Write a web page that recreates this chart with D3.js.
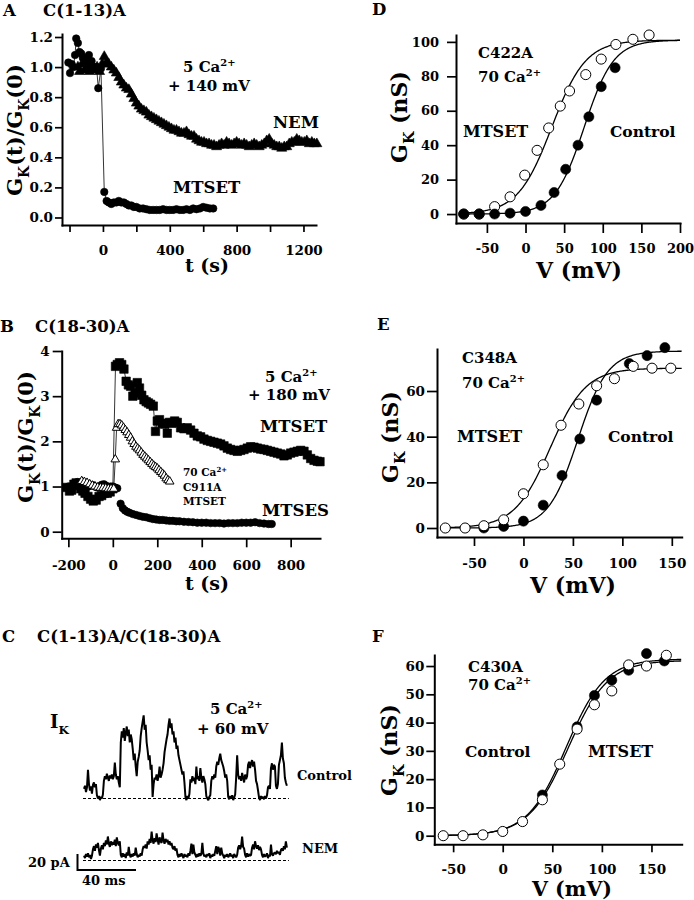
<!DOCTYPE html>
<html lang='en'>
<head>
<meta charset='UTF-8'>
<script src='https://d3js.org/d3.v7.min.js'></script>
<title>GK after cysteine modification</title>
<style>
  body { margin: 0; background: #fff; }
  svg { display: block; background: #fff; }
  text { font-family: 'DejaVu Serif', serif; font-weight: bold; fill: #000; }
</style>
</head>
<body>
<svg id='fig' width='694' height='900'></svg>
<script>
// ---- A : C(1-13)A, GK(t)/GK(0) vs time ----
const aMtsetT = [-207,-197,-187,-177,-167,-160,-150,-140,-130,-120,-107,-95,-84,-68,-55,-38,-28,-12,8,22,35,50,65,80,95,110,125,140,155,170,185,200,220,240,260,280,300,320,340,360,380,400,420,440,460,480,500,520,540,560,580,600,620,640,660]
const aMtsetG = [1.03,0.96,1.02,1.0,1.08,1.19,1.16,1.1,1.09,1.06,1.06,1.03,1.08,1.04,1.0,1.0,0.86,0.99,0.17,0.11,0.1,0.09,0.1,0.1,0.11,0.1,0.1,0.09,0.08,0.08,0.07,0.07,0.06,0.06,0.055,0.05,0.05,0.05,0.05,0.055,0.05,0.05,0.05,0.055,0.05,0.05,0.055,0.05,0.06,0.055,0.06,0.07,0.065,0.06,0.06]
const aNemT = [-150,-140,-125,-110,-95,-80,-65,-50,-35,-20,-5,8,20,35,50,65,80,95,110,125,140,155,170,185,200,215,230,245,260,275,290,305,320,335,350,365,380,395,410,425,440,455,470,485,500,515,530,545,560,575,590,605,620,635,650,665,680,695,710,725,740,755,770,785,800,815,830,845,860,875,890,905,920,935,950,965,980,995,1010,1025,1040,1055,1070,1085,1100,1115,1130,1145,1160,1175,1190,1205,1220,1235,1250,1265,1280]
const aNemG = [1.0,0.97,1.02,0.98,1.0,0.97,1.01,0.98,1.0,0.97,1.02,1.07,1.03,1.02,1.0,0.98,0.96,0.93,0.9,0.88,0.86,0.85,0.82,0.79,0.76,0.74,0.72,0.71,0.7,0.68,0.67,0.66,0.65,0.64,0.63,0.62,0.61,0.6,0.59,0.58,0.58,0.57,0.56,0.56,0.57,0.55,0.54,0.54,0.52,0.51,0.5,0.5,0.49,0.49,0.48,0.48,0.47,0.48,0.49,0.48,0.5,0.49,0.48,0.49,0.5,0.49,0.48,0.49,0.48,0.47,0.48,0.49,0.48,0.47,0.48,0.49,0.51,0.52,0.49,0.48,0.47,0.47,0.46,0.47,0.47,0.49,0.5,0.5,0.52,0.51,0.5,0.5,0.51,0.49,0.5,0.49,0.49]
const aXTicks = [-200,0,200,400,600,800,1000,1200]
const aYTicks = [0,0.2,0.4,0.6,0.8,1.0,1.2]

// ---- B : C(18-30)A ----
const bMtsetT = [-205,-195,-185,-175,-165,-155,-145,-135,-125,-112,-100,-88,-75,-62,-50,-38,-25,-12,0,12,20,30,40,50,60,70,80,90,100,110,120,130,140,150,160,170,182,192,200,210,222,233,245,255,265,278,290,305,320,335,350,365,380,395,410,425,440,455,470,485,500,515,530,545,560,575,590,605,620,635,650,665,680,695,710,725,740,755,770,785,800,815,830,845,860,875,890,905,920,932]
const bMtsetG = [0.98,0.9,0.92,1.05,1.08,1.02,0.95,0.9,0.85,0.78,0.72,0.68,0.7,0.78,0.8,0.85,0.85,0.88,0.95,3.66,3.7,3.74,3.7,3.6,3.33,3.25,3.22,3.0,3.07,3.3,3.18,3.02,2.92,2.88,2.85,2.82,2.78,2.22,2.45,2.48,2.4,2.38,2.18,2.42,2.4,2.45,2.42,2.3,2.28,2.3,2.25,2.18,2.12,2.1,2.05,2.02,2.0,1.98,1.96,1.94,1.9,1.85,1.82,1.8,1.78,1.8,1.82,1.85,1.88,1.87,1.85,1.83,1.82,1.8,1.78,1.76,1.74,1.72,1.68,1.7,1.74,1.76,1.78,1.8,1.78,1.7,1.62,1.58,1.56,1.55]
const bMtsesT = [-200,-190,-180,-170,-160,-150,-140,-130,-120,-110,-100,-90,-80,-70,-60,-50,-40,-30,-20,-10,0,10,20,35,45,55,65,75,90,105,120,135,150,165,180,195,210,225,240,255,270,285,300,320,340,360,380,400,420,440,460,480,500,520,540,560,580,600,620,640,660,680,700,715]
const bMtsesG = [1.0,0.98,1.03,1.05,1.1,1.08,1.05,1.02,1.0,1.0,1.02,1.03,1.0,0.98,1.0,1.04,1.05,1.02,0.98,1.0,1.0,0.98,0.96,0.62,0.52,0.47,0.44,0.42,0.39,0.37,0.35,0.33,0.32,0.3,0.28,0.27,0.26,0.26,0.25,0.24,0.24,0.23,0.23,0.22,0.215,0.21,0.2,0.2,0.2,0.19,0.19,0.19,0.18,0.19,0.19,0.19,0.2,0.2,0.2,0.21,0.19,0.18,0.17,0.17]
const bC911T = [-140,-128,-116,-104,-92,-80,-68,-56,-44,-32,-20,-8,4,11,17,24,32,40,48,56,64,72,80,88,96,104,112,120,128,136,144,152,160,168,176,184,192,200,208,216,224,232,240,248,256]
const bC911G = [1.12,1.1,1.08,1.05,1.02,1.0,0.98,0.97,0.97,0.96,0.95,0.95,0.95,1.6,2.3,2.38,2.38,2.35,2.3,2.25,2.2,2.14,2.08,2.0,1.94,1.88,1.84,1.8,1.75,1.7,1.66,1.62,1.58,1.54,1.5,1.46,1.43,1.4,1.36,1.32,1.28,1.24,1.18,1.14,1.11]
const bXTicks = [-200,0,200,400,600,800]
const bYTicks = [0,1,2,3,4]

// ---- C : single channel records, pA, one sample every cDt ms ----
const cDt = 0.68
const cControl = [12,16,8,14,36,18,10,15,6,17,20,14,18, 4,0,3,-2,2,0,5, 22,28,24,31,26,22,29,25,30,24,28,45,30,24,28,20,14, 70,84,76,88,72,82,90,78,86,70,80,74,62, 48,56,40,28,46,52,60, 78,88,96,104,86,92,70, 60,48,54,36,42,2,18,26, 24,30,22,28,40,26,30,36, 44,58,66,74,80,92,100, 88,94,80,84,70,76,62,66,54,48, 42,36,30,34,20,2, -2,3,0,6, 24,20,28,22,26,18,40,24,28,22,38,26,20,28,24,18, 3,0,-2,2,4, 22,28,24,30,26, 40,46,42,50,56,48,44,40,34, 26,30,22, 2,-1,3,0,4,-2,1,5, 26,54,30,24,28,22,32,26,20,30,24,28, 42,46,38,44,48,40,46,36, 22,18,10, 1,-2,3,0,2,-1,3,0,4, 14,16,12, 38,44,36,42,40, 16,12,18, 42,48,54,70,50,44, 26,20,16]
const cNem = [6,3,8,5,9,4,7,2,6, 14,18,12,20,16,22,13,6,15,19,14, 22,18,25,20,30,21,17,24,19,23,20,26,18,29,22,19,24, 7,4,9,5,8,3,10,6,17,7,4,8,5,9,6,16,8,4,7,5,9,6, 14,18,16,20,15, 24,20,27,22,36,25,21,28,23,34,26,20,29,24,22,35,25,21,27,23,26,20,24,19,22, 16,14,18,12,15, 7,4,8,5,9,6,3,8,5,7,4,9,6, 12,21,8,20,10, 7,4,8,5,9,6,8,22,9,5,7,4,8,6,9,3,7,5,8,6, 12,18,8,17,14,6,16,9, 6,3,7,5,8,4,6,9,5,7,3,8,6,4,7, 16,19,14,18,30,17,15, 7,4,9,5,8,6,7, 16,20,14,24,18,15,19,13,17,14, 7,4,8,5,6,9,3,7,5,20,8,6,9, 10,8,12,9,11,7,13, 15,12,18,14,24,16]
const cScaleBar = [20, 40] // pA, ms

// ---- D, E, F : GK-V, points and Boltzmann fits [Gmax, Vhalf, slope] ----
const dCtlV = [-80,-60,-40,-20,0,20,37,52,68,82,98,116]
const dCtlG = [0,0,0,0.5,1.5,5,12.5,26,40,56.5,74,85]
const dMtsV = [-80,-60,-40,-20,-1,15,30,45,57,78,98,117,139,160]
const dMtsG = [0,0,4.3,10,22.6,37,50,62.7,71.5,81,90,98.5,101.5,104]
const dCtlFit = [101,76,19], dMtsFit = [101,34,22]

const eCtlV = [-40,-20,0,20,39,57,74,107,125,143]
const eCtlG = [0,0.7,3,10,23,39,56,72,75.5,79]
const eMtsV = [-79,-59,-40,-20,0,20,38,56,74,92,111,130,149]
const eMtsG = [0,0,1,3.6,15,27.7,45,54.3,62.3,65.4,70.8,70,70]
const eCtlFit = [77.5,55,15], eMtsFit = [70,27,18]

const fCtlV = [40,75,92.5,110,127,145,163]
const fCtlG = [14.4,38.5,49.6,55,58.5,64.4,61.8]
const fMtsV = [-60,-40,-20,0,20,40,57.5,75,92.5,110,127,145,165]
const fMtsG = [0,0,0.3,1.5,5,12.7,25.3,37.7,46.3,51.2,60.4,60,63.8]
const fCtlFit = [62.5,64,19.5], fMtsFit = [62,66,20]

const svg = d3.select('#fig')

// text with sub/superscripts: parts = [[str], [str,'sub'], [str,'sup']]
function label(x, y, parts, size, anchor, rot) {
  let t = svg.append('text')
    .attr('text-anchor', anchor || 'start')
    .style('font-size', size + 'px')
  if (rot) t.attr('transform', `translate(${x},${y}) rotate(-90)`)
  else t.attr('x', x).attr('y', y)
  let shift = 0
  parts.forEach(p => {
    let want = p[1] === 'sub' ? size * 0.32 : p[1] === 'sup' ? -size * 0.42 : 0
    t.append('tspan').text(p[0])
      .attr('dy', want - shift)
      .style('font-size', p[1] ? (size * 0.66) + 'px' : null)
    shift = want
  })
  return t
}

function drawAxes(x, y, o) {
  let fmt = o.xFmt || (d => String(d))
  let ax = svg.append('g').attr('transform', `translate(0,${y.range()[0]})`)
    .call(d3.axisBottom(x).tickValues(o.xTicks).tickFormat(fmt).tickSize(o.xTick).tickSizeOuter(0))
  ax.selectAll('text').attr('y', o.xLab).attr('dy', 0).style('font-size', o.font + 'px')
  let ay = svg.append('g').attr('transform', `translate(${x.range()[0]},0)`)
    .call(d3.axisLeft(y).tickValues(o.yTicks).tickFormat(o.yFmt || (d => String(d)))
      .tickSize(o.yTick).tickPadding(o.yPad).tickSizeOuter(0))
  ay.selectAll('text').style('font-size', o.font + 'px')
  ;[ax, ay].forEach(a => {
    a.select('.domain').attr('stroke-width', 2).attr('stroke-linecap', 'square')
    a.selectAll('.tick line').attr('stroke-width', 1.7)
  })
}

function series(x, y, ts, vs, shape, opt) {
  let pts = ts.map((t, i) => [t, vs[i]])
  if (opt.line) {
    svg.append('path').datum(pts)
      .attr('d', d3.line().x(d => x(d[0])).y(d => y(d[1])))
      .attr('fill', 'none').attr('stroke', '#000').attr('stroke-width', 0.8)
  }
  let sym = d3.symbol().type(shape).size(opt.size)
  svg.append('g').selectAll('path').data(pts).enter().append('path')
    .attr('transform', d => `translate(${x(d[0])},${y(d[1])})`)
    .attr('d', sym)
    .attr('fill', opt.open ? '#fff' : '#000')
    .attr('stroke', '#000').attr('stroke-width', opt.open ? 1 : 0.6)
}

function boltz(x, y, fit, v0) {
  let v1 = x.domain()[1]
  let vs = d3.range(v0, v1 + 0.5, 1)
  svg.append('path').datum(vs)
    .attr('d', d3.line().x(v => x(v)).y(v => y(fit[0] / (1 + Math.exp(-(v - fit[1]) / fit[2])))))
    .attr('fill', 'none').attr('stroke', '#000').attr('stroke-width', 1.3)
}

// ================= A =================
{
  let x = d3.scaleLinear().domain([-245, 1275]).range([62, 316])
  let y = d3.scaleLinear().domain([-0.05, 1.22]).range([225, 34])
  drawAxes(x, y, {xTicks: aXTicks, yTicks: aYTicks, xFmt: d => (d >= 0 && d % 400 === 0) ? String(d) : '',
    yFmt: d3.format('.1f'), xTick: 7, yTick: 7, yPad: 2, xLab: 30, font: 13.5})
  series(x, y, aNemT, aNemG, d3.symbolTriangle, {size: 44, line: true})
  series(x, y, aMtsetT, aMtsetG, d3.symbolCircle, {size: 44, line: true})
  label(3, 16, [['A']], 16.5)
  label(43, 16, [['C(1-13)A']], 16.5)
  label(22, 130, [['G'], ['K', 'sub'], ['(t)/G'], ['K', 'sub'], ['(0)']], 21, 'middle', true)
  label(207, 272, [['t (s)']], 19, 'middle')
  label(183, 72, [['5 Ca'], ['2+', 'sup']], 15)
  label(168, 91, [['+ 140 mV']], 15)
  label(273, 128, [['NEM']], 16.5)
  label(173, 193, [['MTSET']], 16.5)
}

// ================= B =================
{
  let x = d3.scaleLinear().domain([-230, 932]).range([61.7, 320])
  let y = d3.scaleLinear().domain([-0.146, 4]).range([538.3, 351])
  drawAxes(x, y, {xTicks: bXTicks, yTicks: bYTicks, xTick: 9, yTick: 9, yPad: 3, xLab: 31.7, font: 13.5})
  series(x, y, bMtsetT, bMtsetG, d3.symbolSquare, {size: 72, line: true})
  series(x, y, bMtsesT, bMtsesG, d3.symbolCircle, {size: 44})
  series(x, y, bC911T, bC911G, d3.symbolTriangle, {size: 32, line: true, open: true})
  label(0, 332, [['B']], 16.5)
  label(35, 332, [['C(18-30)A']], 16.5)
  label(33, 437, [['G'], ['K', 'sub'], ['(t)/G'], ['K', 'sub'], ['(0)']], 21, 'middle', true)
  label(207, 590, [['t (s)']], 19, 'middle')
  label(265, 382, [['5 Ca'], ['2+', 'sup']], 15)
  label(248, 400, [['+ 180 mV']], 15)
  label(260, 432, [['MTSET']], 16.5)
  label(262, 516, [['MTSES']], 16.5)
  label(183, 476, [['70 Ca'], ['2+', 'sup']], 10.5)
  label(183, 491, [['C911A']], 10.5)
  label(183, 505, [['MTSET']], 10.5)
}

// ================= C =================
{
  let x = d3.scaleLinear().domain([0, 40]).range([0, 58.5])
  let y = d3.scaleLinear().domain([0, 20]).range([0, -16])
  function trace(vals, x0, y0) {
    let g = svg.append('g').attr('transform', `translate(${x0},${y0})`)
    g.append('line')
      .attr('x1', x(0) - 1).attr('x2', x((vals.length - 1) * cDt) + 2)
      .attr('y1', y(0)).attr('y2', y(0))
      .attr('stroke', '#000').attr('stroke-width', 1).attr('stroke-dasharray', '3,2')
    g.append('path').datum(vals)
      .attr('d', d3.line().x((d, i) => x(i * cDt)).y(d => y(d)))
      .attr('fill', 'none').attr('stroke', '#000').attr('stroke-width', 2)
      .attr('stroke-linejoin', 'bevel')
  }
  trace(cControl, 84, 798.5)
  trace(cNem, 84, 860.5)
  // scale bar
  let sb = svg.append('g').attr('transform', 'translate(77.5,870)')
  sb.append('path')
    .attr('d', `M0,${y(cScaleBar[0])}V0H${x(cScaleBar[1])}`)
    .attr('fill', 'none').attr('stroke', '#000').attr('stroke-width', 2)
  label(2, 642, [['C']], 16.5)
  label(37, 642, [['C(1-13)A/C(18-30)A']], 16.5)
  label(50, 728, [['I'], ['K', 'sub']], 18)
  label(210, 714, [['5 Ca'], ['2+', 'sup']], 15)
  label(197, 734, [['+ 60 mV']], 15)
  label(297, 780, [['Control']], 13)
  label(302, 853, [['NEM']], 13)
  label(28, 867, [['20 pA']], 13)
  label(82, 885, [['40 ms']], 13)
}

// ================= D =================
{
  let x = d3.scaleLinear().domain([-90, 200]).range([456, 680])
  let y = d3.scaleLinear().domain([-5.2, 104]).range([223, 35])
  drawAxes(x, y, {xTicks: [-50,0,50,100,150,200], yTicks: [0,20,40,60,80,100], xTick: 10, yTick: 9, yPad: 8, xLab: 30, font: 13})
  boltz(x, y, dMtsFit, -82)
  boltz(x, y, dCtlFit, -82)
  series(x, y, dMtsV, dMtsG, d3.symbolCircle, {size: 80, open: true})
  series(x, y, dCtlV, dCtlG, d3.symbolCircle, {size: 80})
  label(372, 15, [['D']], 16.5)
  label(407, 117, [['G'], ['K', 'sub'], [' (nS)']], 22, 'middle', true)
  label(579, 278, [['V (mV)']], 22, 'middle')
  label(478, 58, [['C422A']], 15)
  label(478, 82, [['70 Ca'], ['2+', 'sup']], 15)
  label(463, 137, [['MTSET']], 16)
  label(610, 137, [['Control']], 15.5)
}

// ================= E =================
{
  let x = d3.scaleLinear().domain([-87.4, 160]).range([437, 681.7])
  let y = d3.scaleLinear().domain([-3.94, 78.4]).range([537, 349])
  drawAxes(x, y, {xTicks: [-50,0,50,100,150], yTicks: [0,20,40,60], xTick: 9, yTick: 10, yPad: 2, xLab: 31, font: 13.5})
  boltz(x, y, eCtlFit, -80)
  boltz(x, y, eMtsFit, -80)
  series(x, y, eCtlV, eCtlG, d3.symbolCircle, {size: 80})
  series(x, y, eMtsV, eMtsG, d3.symbolCircle, {size: 80, open: true})
  label(377, 330, [['E']], 16.5)
  label(398, 437, [['G'], ['K', 'sub'], [' (nS)']], 22, 'middle', true)
  label(573, 593, [['V (mV)']], 22, 'middle')
  label(462, 363, [['C348A']], 15)
  label(462, 388, [['70 Ca'], ['2+', 'sup']], 15)
  label(457, 442, [['MTSET']], 16)
  label(608, 442, [['Control']], 15.5)
}

// ================= F =================
{
  let x = d3.scaleLinear().domain([-69, 180.5]).range([434.3, 681.7])
  let y = d3.scaleLinear().domain([-3.04, 63.9]).range([844.3, 655])
  drawAxes(x, y, {xTicks: [-50,0,50,100,150], yTicks: [0,10,20,30,40,50,60], xTick: 8, yTick: 8, yPad: 2, xLab: 30, font: 13.5})
  boltz(x, y, fCtlFit, -62)
  boltz(x, y, fMtsFit, -62)
  series(x, y, fCtlV, fCtlG, d3.symbolCircle, {size: 80})
  series(x, y, fMtsV, fMtsG, d3.symbolCircle, {size: 80, open: true})
  label(372, 642, [['F']], 16.5)
  label(397, 750, [['G'], ['K', 'sub'], [' (nS)']], 22, 'middle', true)
  label(572, 896, [['V (mV)']], 20.5, 'middle')
  label(468, 672, [['C430A']], 15)
  label(468, 690, [['70 Ca'], ['2+', 'sup']], 15)
  label(465, 757, [['Control']], 15.5)
  label(588, 757, [['MTSET']], 16)
}
</script>
</body>
</html>
